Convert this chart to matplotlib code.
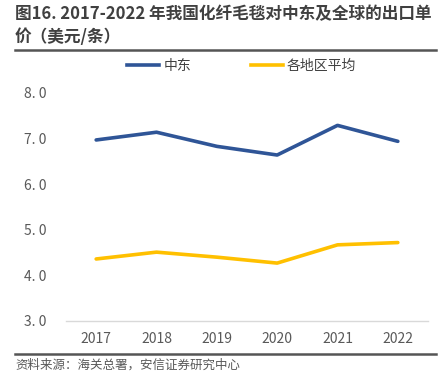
import matplotlib
matplotlib.use("Agg")
import matplotlib.pyplot as plt
from matplotlib.lines import Line2D

plt.rcParams['font.family'] = ['Noto Sans CJK SC', 'DejaVu Sans']

years = ['2017', '2018', '2019', '2020', '2021', '2022']
middle_east = [6.97, 7.14, 6.83, 6.64, 7.29, 6.94]
all_regions = [4.36, 4.51, 4.40, 4.27, 4.67, 4.72]
yticks = [3.0, 4.0, 5.0, 6.0, 7.0, 8.0]

fig = plt.figure(figsize=(4.42, 3.75), dpi=100)
ax = fig.add_axes([66 / 442, 1 - 321 / 375, 362 / 442, 228 / 375])

x = range(len(years))
ax.plot(x, middle_east, color='#2F5597', lw=2.6, solid_capstyle='round', label='中东')
ax.plot(x, all_regions, color='#FFC000', lw=2.6, solid_capstyle='round', label='各地区平均')

ax.set_xlim(-0.5, len(years) - 0.5)
ax.set_ylim(3.0, 8.0)
ax.set_xticks(list(x))
ax.set_xticklabels(years)
ax.set_yticks(yticks)
ax.set_yticklabels([f'{v:.1f}'.replace('.', '. ') for v in yticks])
ax.tick_params(axis='both', length=0, labelsize=10, colors='#595959')
ax.tick_params(axis='x', pad=8)
ax.tick_params(axis='y', pad=14)
for s in ['top', 'right', 'left']:
    ax.spines[s].set_visible(False)
ax.spines['bottom'].set_color('#D9D9D9')
ax.spines['bottom'].set_linewidth(1)

# legend
handles = [Line2D([], [], color='#2F5597', lw=2.6),
           Line2D([], [], color='#FFC000', lw=2.6)]
fig.legend(handles, ['中东', '各地区平均'], loc='center', bbox_to_anchor=(0.547, 1 - 66 / 375),
           ncol=2, frameon=False, fontsize=10, handlelength=2.3, columnspacing=4.3,
           handletextpad=0.3, labelcolor='#404040')

# title
fig.text(15 / 442, 1 - 14 / 375, '图16. 2017-2022 年我国化纤毛毯对中东及全球的出口单',
         fontsize=12, fontweight='bold', color='#404040', va='center', ha='left')
fig.text(15 / 442, 1 - 37 / 375, '价（美元/条）',
         fontsize=12, fontweight='bold', color='#404040', va='center', ha='left')
fig.add_artist(Line2D([15 / 442, 436 / 442], [1 - 50 / 375] * 2, color='#555555', lw=1.8))
fig.add_artist(Line2D([15 / 442, 436 / 442], [1 - 354 / 375] * 2, color='#555555', lw=1.8))
fig.text(15 / 442, 1 - 365 / 375, '资料来源：海关总署，安信证券研究中心',
         fontsize=9, style='italic', color='#595959', va='center', ha='left')

fig.savefig('out.png', dpi=100)
